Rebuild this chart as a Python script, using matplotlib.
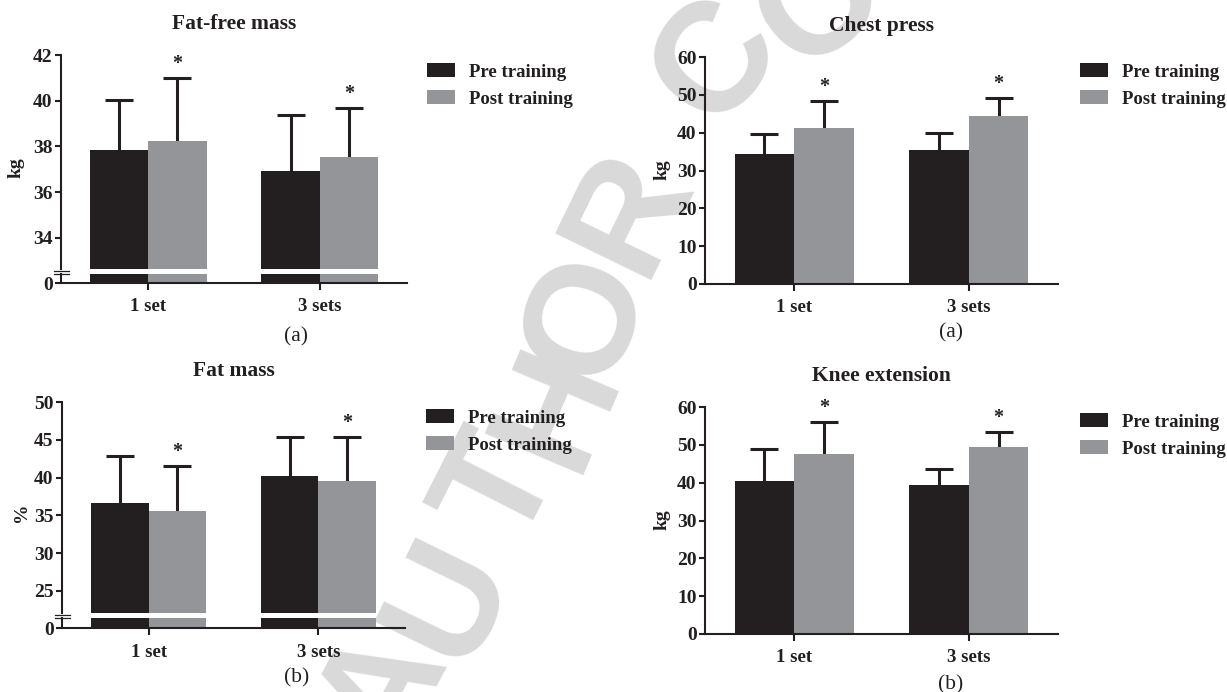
import matplotlib
matplotlib.use("Agg")
import matplotlib.pyplot as plt
from matplotlib.patches import Patch
from matplotlib.lines import Line2D

W, H = 1227, 692
INK = "#231f20"; GREY = "#939598"; WMARK = "#d9d9d9"
plt.rcParams.update({"font.family": "serif", "font.serif": ["Liberation Serif", "DejaVu Serif"],
                     "font.weight": "bold", "axes.linewidth": 1.5, "axes.edgecolor": INK,
                     "xtick.color": INK, "ytick.color": INK, "text.color": INK})

# ---- data ----
groups = ["1 set", "3 sets"]
series = ["Pre training", "Post training"]
ffm_pre = [37.85, 36.93]; ffm_post = [38.24, 37.54]
ffm_pre_sd = [2.2, 2.45]; ffm_post_sd = [2.74, 2.16]
fm_pre = [36.6, 40.2]; fm_post = [35.6, 39.55]
fm_pre_sd = [6.26, 5.12]; fm_post_sd = [5.9, 5.78]
cp_pre = [34.3, 35.3]; cp_post = [41.2, 44.3]
cp_pre_sd = [5.3, 4.5]; cp_post_sd = [7.1, 4.8]
ke_pre = [40.4, 39.5]; ke_post = [47.5, 49.4]
ke_pre_sd = [8.4, 4.0]; ke_post_sd = [8.6, 3.9]

fig = plt.figure(figsize=(W/100, H/100), dpi=100)
fig.patch.set_facecolor("white")

def fx(p): return p/W
def fy(p): return 1 - p/H
def box(l, r, t, b): return [fx(l), fy(b), fx(r)-fx(l), (b-t)/H]

# faint watermark behind everything
for ch, (px, py), rot in [("A", (384, 690), 62), ("U", (450, 600), 64), ("T", (502, 490), 63),
                          ("H", (558, 408), 67), ("O", (588, 318), 70), ("R", (630, 212), 64),
                          ("C", (718, 62), 52), ("O", (822, 4), 38)]:
    fig.text(fx(px), fy(py), ch, fontsize=112, family="Liberation Sans", weight="bold",
             color=WMARK, rotation=rot, rotation_mode="anchor", ha="center", va="center", zorder=-5)

BW = 0.34
X = [0, 1]

def bars(ax, pre, post, pre_sd, post_sd):
    xp = [x - BW/2 for x in X]; xq = [x + BW/2 for x in X]
    ax.bar(xp, pre, BW, color=INK, zorder=2)
    ax.bar(xq, post, BW, color=GREY, zorder=2)
    for xs, m, s in [(xp, pre, pre_sd), (xq, post, post_sd)]:
        eb = ax.errorbar(xs, m, yerr=[[0]*len(m), s], fmt="none", ecolor=INK, elinewidth=2.2,
                         capsize=10, capthick=2.2, zorder=1)
        eb[1][0].set_visible(False)   # no cap at the bar top
    return xq

def style(ax, xaxis=True):
    ax.patch.set_alpha(0)
    ax.spines[["top", "right"]].set_visible(False)
    ax.set_xlim(-0.51, 1.51)
    ax.tick_params(axis="y", direction="out", length=4.5, width=1.5, labelsize=14, pad=1.5)
    ax.tick_params(axis="x", direction="out", length=5, width=1.5, labelsize=13.5, pad=6)
    if xaxis:
        ax.set_xticks(X); ax.set_xticklabels(groups)
    else:
        ax.set_xticks([]); ax.spines["bottom"].set_visible(False)

def stars(ax, xq, post, post_sd):
    for x, m, s in zip(xq, post, post_sd):
        ax.annotate("*", (x, m + s), xytext=(0, 10), textcoords="offset points",
                    ha="center", va="center", fontsize=14.5, weight="bold")

def legend(l, t):
    h = [Patch(facecolor=INK, edgecolor="none"), Patch(facecolor=GREY, edgecolor="none")]
    fig.legend(h, series, loc="upper left", bbox_to_anchor=(fx(l), fy(t)), frameon=False,
               borderpad=0, borderaxespad=0, handlelength=1.5, handleheight=0.8,
               handletextpad=0.75, labelspacing=0.5, prop={"weight": "bold", "size": 13.5})

def broken(l, r, t, bt, bb, base, ylo, yhi, yticks, pre, post, pre_sd, post_sd, title):
    top = fig.add_axes(box(l, r, t, bt))
    bot = fig.add_axes(box(l, r, bb, base))
    for ax in (top, bot):
        xq = bars(ax, pre, post, pre_sd, post_sd)
    top.set_ylim(ylo, yhi); top.set_yticks(yticks)
    bot.set_ylim(0, 1); bot.set_yticks([0])
    style(top, xaxis=False); style(bot)
    stars(top, xq, post, post_sd)
    top.set_title(title, fontsize=15.5, weight="bold", pad=19)
    # break marks
    for yy in (bt + 1.2, bb - 0.8):
        fig.add_artist(Line2D([fx(l - 7), fx(l + 8)], [fy(yy), fy(yy)], color=INK, lw=0.9))

def plain(l, r, t, base, pre, post, pre_sd, post_sd, title):
    ax = fig.add_axes(box(l, r, t, base))
    xq = bars(ax, pre, post, pre_sd, post_sd)
    ax.set_ylim(0, 60); ax.set_yticks(range(0, 61, 10))
    style(ax)
    stars(ax, xq, post, post_sd)
    ax.set_title(title, fontsize=15.5, weight="bold", pad=19)

broken(61, 407, 55, 269.3, 274.3, 283, 32.63, 42, [34, 36, 38, 40, 42],
       ffm_pre, ffm_post, ffm_pre_sd, ffm_post_sd, "Fat-free mass")
broken(62, 405, 402, 613.3, 618.3, 628.3, 22.05, 50, [25, 30, 35, 40, 45, 50],
       fm_pre, fm_post, fm_pre_sd, fm_post_sd, "Fat mass")
plain(705, 1058, 57, 284, cp_pre, cp_post, cp_pre_sd, cp_post_sd, "Chest press")
plain(705, 1058, 407, 634, ke_pre, ke_post, ke_pre_sd, ke_post_sd, "Knee extension")

legend(427, 63); legend(426, 409); legend(1080, 63); legend(1080, 413)

for s, px, py in [("kg", 16, 168), ("%", 21, 512), ("kg", 662, 170), ("kg", 662, 520)]:
    fig.text(fx(px), fy(py), s, rotation=90, ha="center", va="center", fontsize=14, weight="bold")
for s, px, py in [("(a)", 296, 337), ("(b)", 297, 678), ("(a)", 951, 333), ("(b)", 951, 685)]:
    fig.text(fx(px), fy(py), s, ha="center", va="center", fontsize=15.5, weight="normal")

fig.savefig("out.png", dpi=100)
